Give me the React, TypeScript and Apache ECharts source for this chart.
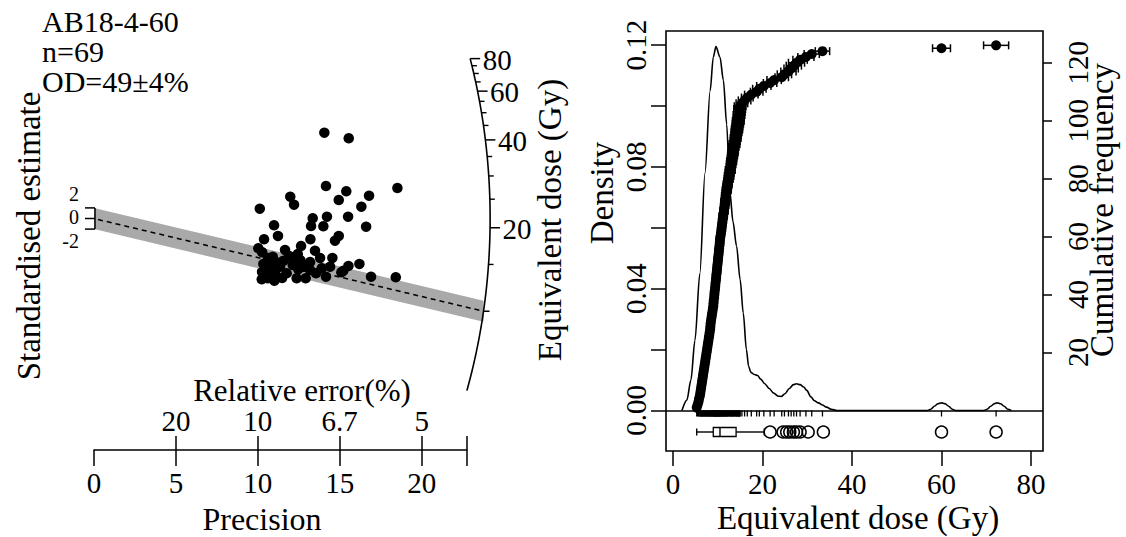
import React, { useEffect, useRef } from "react";
import * as echarts from "echarts";

const FONT = "Liberation Serif";

// ---------- Left panel: radial plot ----------
const sampleName = "AB18-4-60";
const sampleN = "n=69";
const sampleOD = "OD=49±4%";

const radialPrecision = [
  14.06, 15.55, 14.16, 18.52, 15.4, 11.98, 16.79, 14.94, 12.21, 16.32,
  10.12, 13.35, 14.22, 15.51, 10.99, 13.25, 14.0, 16.61, 11.23, 14.94,
  14.71, 10.38, 13.21, 12.64, 10.03, 13.49, 10.27, 10.91, 11.92, 12.44,
  14.55, 10.5, 11.25, 11.56, 12.13, 12.82, 13.9, 14.41, 15.53, 16.2,
  15.22, 10.7, 11.05, 12.47, 10.24, 11.01, 12.37, 12.92, 13.55, 14.16,
  16.91, 18.42, 10.6, 11.76, 15.1, 10.34, 10.74, 11.36, 12.68, 13.19,
  10.62, 11.66, 12.09, 11.05, 12.58, 10.26, 11.48, 13.19, 13.8,
];
const radialStdEst = [
  16.19, 15.13, 6.13, 5.75, 5.13, 4.11, 4.3, 3.49, 2.6, 2.23,
  1.85, 0.04, 0.34, 0.34, -1.28, -1.42, -1.47, -1.55, -3.3, -3.3,
  -4.19, -3.92, -3.92, -5.19, -5.62, -6.08, -6.38, -7.21, -7.08, -6.7,
  -7.45, -8.58, -8.34, -7.96, -8.77, -9.09, -9.4, -9.09, -8.96, -8.58,
  -9.85, -9.72, -10.34, -9.58, -11.47, -11.74, -11.28, -11.28, -10.34, -10.98,
  -10.98, -11.09, -11.28, -10.34, -10.15, -8.58, -9.09, -9.09, -9.09, -9.72,
  -7.45, -5.94, -7.45, -8.21, -7.83, -10.09, -11.23, -8.21, -7.45,
];

const precisionTicks = [0, 5, 10, 15, 20];
const precisionMax = 22.75;
const relErrTickPos = [5, 10, 15, 20];
const relErrTickLabels = ["20", "10", "6.7", "5"];
const stdEstTicks = [2, 0, -2];
const centralDe = 10.3;
const refDe = 21.5;
const arcMajorTicks = [20, 40, 60, 80];
const arcMinorTicks = [15, 25, 30, 35, 45, 50, 55, 65, 70, 75];
const arcRange = [5.16, 80];
const arcRadius = 24.18;
const arcAspect = 0.2513;

// ---------- Right panel: KDE + cumulative ----------
const kdeDe = [
  2.0, 3.1, 4.0, 4.9, 6.0, 7.15, 8.3, 9.0, 9.6, 10.5,
  11.25, 12.0, 12.7, 13.4, 14.2, 15.0, 15.7, 16.4, 16.9, 17.4,
  18.2, 18.9, 19.6, 20.5, 21.5, 22.5, 23.5, 24.2, 25.0, 26.0,
  26.9, 27.6, 28.4, 29.2, 29.9, 30.8, 31.6, 32.5, 33.4, 34.3,
  35.4, 36.6,
  56.8, 57.6, 58.4, 59.2, 60.0, 60.8, 61.6, 62.4, 63.2,
  69.4, 70.2, 71.0, 71.8, 72.4, 73.2, 74.0, 74.8, 75.6,
];
const kdeDensity = [
  0, 0.0034, 0.01, 0.023, 0.045, 0.078, 0.105, 0.116, 0.1195, 0.116,
  0.1085, 0.094, 0.072, 0.062, 0.054, 0.043, 0.032, 0.02, 0.0145, 0.0125,
  0.0118, 0.0115, 0.0103, 0.0088, 0.0072, 0.0057, 0.0047, 0.0046, 0.0055, 0.0072,
  0.0085, 0.0088, 0.0085, 0.0077, 0.0066, 0.0045, 0.0032, 0.0025, 0.0018, 0.0011,
  0.0004, 0,
  0, 0.0004, 0.0014, 0.0022, 0.0025, 0.0022, 0.0014, 0.0004, 0,
  0, 0.0004, 0.0014, 0.0022, 0.0025, 0.0022, 0.0014, 0.0004, 0,
];

const cumDe = [
  5.3, 5.5, 5.7, 5.8, 6.0, 6.1, 6.2, 6.3, 6.4, 6.5, 6.6, 6.7, 6.8,
  6.9, 7.0, 7.1, 7.2, 7.3, 7.4, 7.5, 7.6, 7.7, 7.8, 7.9, 8.0, 8.1, 8.2, 8.3, 8.35, 8.4, 8.5, 8.6, 8.7, 8.8, 8.9, 9.0,
  9.05, 9.1, 9.2, 9.25, 9.3, 9.4, 9.45, 9.5, 9.6, 9.65, 9.7, 9.8, 9.85, 9.9, 10.0, 10.05, 10.1, 10.2, 10.25, 10.3, 10.4, 10.45, 10.5,
  10.6, 10.7, 10.8, 10.85, 10.95, 11.05, 11.1, 11.2, 11.3, 11.4, 11.5, 11.55, 11.65, 11.75, 11.8, 11.9, 12.0,
  12.1, 12.2, 12.3, 12.45, 12.55, 12.65, 12.8, 12.9, 13.0, 13.1, 13.2, 13.3, 13.4, 13.5, 13.6, 13.75, 13.9,
  14.0, 14.1, 14.2, 14.3, 14.4, 14.5, 14.6, 14.7, 14.75, 14.85, 14.9, 15.0,
  15.4, 16.0, 16.6, 17.5, 18.7, 19.3, 20.3, 21.7, 22.6,
  24.3, 24.9, 25.8, 26.4, 27.0, 27.6, 28.4, 29.7, 31.0, 33.4,
  60.0, 72.2,
];
const cumErr = [
  0.35, 0.4, 0.4, 0.4, 0.45, 0.4, 0.45, 0.45, 0.4, 0.45, 0.5, 0.45, 0.5,
  0.5, 0.45, 0.5, 0.55, 0.5, 0.5, 0.55, 0.5, 0.55, 0.6, 0.5, 0.55, 0.6, 0.55, 0.6, 0.55, 0.6, 0.6, 0.55, 0.6, 0.65, 0.6, 0.6,
  0.65, 0.6, 0.65, 0.7, 0.6, 0.65, 0.7, 0.65, 0.7, 0.65, 0.7, 0.75, 0.7, 0.7, 0.75, 0.7, 0.75, 0.8, 0.7, 0.75, 0.8, 0.75, 0.8,
  0.8, 0.75, 0.8, 0.85, 0.8, 0.85, 0.8, 0.9, 0.85, 0.9, 0.85, 0.9, 0.95, 0.9, 0.95, 0.9, 1.0,
  0.95, 1.0, 0.95, 1.0, 1.05, 1.0, 1.1, 1.0, 1.05, 1.1, 1.05, 1.1, 1.15, 1.1, 1.15, 1.2, 1.1,
  1.2, 1.15, 1.2, 1.25, 1.2, 1.25, 1.3, 1.2, 1.3, 1.25, 1.3, 1.3,
  1.3, 1.4, 1.3, 1.5, 1.4, 1.5, 1.6, 1.5, 1.6,
  1.5, 1.6, 1.7, 1.6, 1.7, 1.8, 1.6, 1.8, 1.7, 1.6,
  2.0, 2.8,
];

const boxStats = [5.3, 9.0, 10.5, 14.1, 20.4]; // lower whisker, Q1, median, Q3, upper whisker
const boxOutliers = [21.7, 24.6, 25.4, 26.1, 26.9, 27.6, 28.4, 30.2, 33.6, 60.0, 72.2];

const doseTicks = [0, 20, 40, 60, 80];
const doseMin = -1.564;
const doseMax = 82.68;
const densityTicks = [0, 0.02, 0.04, 0.06, 0.08, 0.1, 0.12];
const densityLabels = [0, 0.04, 0.08, 0.12];
const cumTicks = [20, 40, 60, 80, 100, 120];

// ---------- helpers ----------
const BOX_LEVEL = -0.00706;
const BLACK = "#000";

function arcPoint(de: number): [number, number] {
  const s = Math.log(de / refDe);
  const x = arcRadius / Math.sqrt(1 + arcAspect * arcAspect * s * s);
  return [x, s * x];
}

function txt(
  text: string,
  x: number,
  y: number,
  size: number,
  align: string,
  valign: string,
  rotation = 0,
  lineHeight?: number
) {
  const style: any = {
    text,
    font: `${size}px '${FONT}'`,
    fill: BLACK,
    textAlign: align,
    textVerticalAlign: valign,
  };
  if (lineHeight) style.textLineHeight = lineHeight;
  return { type: "text", x, y, rotation, silent: true, style };
}

function line(x1: number, y1: number, x2: number, y2: number, w = 1.5, dash?: number[]) {
  return {
    type: "line",
    silent: true,
    shape: { x1, y1, x2, y2 },
    style: { stroke: BLACK, lineWidth: w, lineDash: dash, fill: null },
  };
}

function buildOption() {
  const labelStyle = { color: BLACK, fontFamily: FONT, fontSize: 29 };
  const tickStyle = { color: BLACK, width: 1.5 };

  const radialFrame = {
    type: "custom",
    xAxisIndex: 0,
    yAxisIndex: 0,
    z: 1,
    silent: true,
    clip: false,
    data: [[0, 0]],
    renderItem: (_p: any, api: any) => {
      const c = (x: number, y: number) => api.coord([x, y]);
      const children: any[] = [];
      const sC = Math.log(centralDe / refDe);
      const end = arcPoint(centralDe);
      const xe = end[0];
      // 2-sigma band
      children.push({
        type: "polygon",
        silent: true,
        shape: { points: [c(0, 2), c(xe, sC * xe + 2), c(xe, sC * xe - 2), c(0, -2)] },
        style: { fill: "#a9a9a9", lineWidth: 0 },
      });
      // central line
      const o = c(0, 0);
      const e = c(end[0], end[1]);
      children.push(line(o[0] + 4, o[1] + 1, e[0], e[1], 1.6, [5, 4]));
      children.push(line(e[0], e[1], e[0] + 6, e[1], 1.5));
      // arc (De axis)
      const pts: number[][] = [];
      const n = 120;
      const l0 = Math.log(arcRange[0]);
      const l1 = Math.log(arcRange[1]);
      for (let i = 0; i <= n; i++) {
        const d = Math.exp(l0 + ((l1 - l0) * i) / n);
        const p = arcPoint(d);
        pts.push(c(p[0], p[1]));
      }
      children.push({
        type: "polyline",
        silent: true,
        shape: { points: pts },
        style: { stroke: BLACK, lineWidth: 1.6, fill: null },
      });
      arcMinorTicks.forEach((d) => {
        const p = arcPoint(d);
        const q = c(p[0], p[1]);
        children.push(line(q[0], q[1], q[0] + 5, q[1], 1.4));
      });
      arcMajorTicks.forEach((d) => {
        const p = arcPoint(d);
        const q = c(p[0], p[1]);
        children.push(line(q[0], q[1], q[0] + 10, q[1], 1.5));
        children.push(txt(String(d), q[0] + 12.5, q[1] + 1, 29, "left", "middle"));
      });
      // short y axis (standardised estimate)
      const a = c(0, 2);
      const b = c(0, -2);
      const x0 = a[0] + 1;
      children.push(line(x0, a[1], x0, b[1], 1.5));
      const labelDy: Record<string, number> = { "2": -13.5, "0": -1, "-2": 11.5 };
      stdEstTicks.forEach((t) => {
        const q = c(0, t);
        children.push(line(x0 - 10, q[1], x0, q[1], 1.5));
        children.push(txt(String(t), x0 - 16, q[1] + labelDy[String(t)], 20, "right", "middle"));
      });
      return { type: "group", children };
    },
  };

  const radialPoints = {
    type: "scatter",
    xAxisIndex: 0,
    yAxisIndex: 0,
    z: 3,
    symbol: "circle",
    symbolSize: 10.5,
    itemStyle: { color: BLACK, opacity: 1 },
    data: radialPrecision.map((p, i) => [p, radialStdEst[i]]),
  };

  const kdeLine = {
    type: "line",
    xAxisIndex: 2,
    yAxisIndex: 1,
    z: 2,
    showSymbol: false,
    smooth: 0.3,
    smoothMonotone: "x",
    lineStyle: { color: BLACK, width: 1.6 },
    data: kdeDe.map((d, i) => [d, kdeDensity[i]]),
    markLine: {
      silent: true,
      symbol: "none",
      label: { show: false },
      lineStyle: { color: BLACK, width: 1.6, type: "solid" },
      data: [{ yAxis: 0 }],
    },
  };

  const rug = {
    type: "custom",
    xAxisIndex: 2,
    yAxisIndex: 1,
    z: 2,
    silent: true,
    data: cumDe.map((d) => [d, 0]),
    renderItem: (_p: any, api: any) => {
      const q = api.coord([api.value(0), 0]);
      return line(q[0], q[1], q[0], q[1] + 6, 1.3);
    },
  };

  const boxplot = {
    type: "custom",
    xAxisIndex: 2,
    yAxisIndex: 1,
    z: 2,
    silent: true,
    data: [[boxStats[2], BOX_LEVEL]],
    renderItem: (_p: any, api: any) => {
      const px = (v: number) => api.coord([v, BOX_LEVEL])[0];
      const yc = api.coord([0, BOX_LEVEL])[1];
      const h = 4.5;
      const [lo, q1, med, q3, hi] = boxStats.map(px);
      return {
        type: "group",
        children: [
          line(lo, yc, q1, yc, 1.4),
          line(q3, yc, hi, yc, 1.4),
          line(lo, yc - 3.5, lo, yc + 3.5, 1.4),
          line(hi, yc - 3.5, hi, yc + 3.5, 1.4),
          {
            type: "rect",
            silent: true,
            shape: { x: q1, y: yc - h, width: q3 - q1, height: 2 * h },
            style: { fill: "#fff", stroke: BLACK, lineWidth: 1.3 },
          },
          line(med, yc - h, med, yc + h, 1.4),
        ],
      };
    },
  };

  const outliers = {
    type: "scatter",
    xAxisIndex: 2,
    yAxisIndex: 1,
    z: 3,
    symbol: "circle",
    symbolSize: 12,
    itemStyle: { color: "rgba(0,0,0,0)", borderColor: BLACK, borderWidth: 1.5, opacity: 1 },
    data: boxOutliers.map((d) => [d, BOX_LEVEL]),
  };

  const errBars = {
    type: "custom",
    xAxisIndex: 2,
    yAxisIndex: 2,
    z: 4,
    silent: true,
    data: cumDe.map((d, i) => [d, i + 1, cumErr[i]]),
    renderItem: (_p: any, api: any) => {
      const x = api.value(0);
      const y = api.value(1);
      const e = api.value(2);
      const l = api.coord([x - e, y]);
      const r = api.coord([x + e, y]);
      return {
        type: "group",
        children: [
          line(l[0], l[1], r[0], r[1], 1.5),
          line(l[0], l[1] - 4, l[0], l[1] + 4, 1.5),
          line(r[0], r[1] - 4, r[0], r[1] + 4, 1.5),
        ],
      };
    },
  };

  const cumPoints = {
    type: "scatter",
    xAxisIndex: 2,
    yAxisIndex: 2,
    z: 5,
    symbol: "circle",
    symbolSize: 10,
    itemStyle: { color: BLACK, opacity: 1 },
    data: cumDe.map((d, i) => [d, i + 1]),
  };

  // right-hand (cumulative frequency) tick labels, placed through the axis scale
  const cumAxisLabels = {
    type: "custom",
    xAxisIndex: 2,
    yAxisIndex: 2,
    z: 5,
    silent: true,
    clip: false,
    data: cumTicks.map((t) => [doseMax, t]),
    renderItem: (_p: any, api: any) => {
      const q = api.coord([api.value(0), api.value(1)]);
      return txt(String(api.value(1)), q[0] + 35, q[1], 29, "center", "middle", Math.PI / 2);
    },
  };

  return {
    animation: false,
    backgroundColor: "#fff",
    textStyle: { fontFamily: FONT },
    grid: [
      { left: 94, top: 30, width: 372.7, height: 420, show: false },
      {
        left: 666,
        top: 31,
        width: 377,
        height: 420,
        show: true,
        borderColor: BLACK,
        borderWidth: 1.6,
        backgroundColor: "transparent",
      },
    ],
    xAxis: [
      {
        gridIndex: 0,
        type: "value",
        min: 0,
        max: precisionMax,
        position: "bottom",
        axisLine: { show: true, onZero: false, lineStyle: { color: BLACK, width: 1.6 } },
        axisTick: {
          show: true,
          customValues: [...precisionTicks, precisionMax],
          length: 16,
          lineStyle: tickStyle,
        },
        axisLabel: { show: true, customValues: precisionTicks, margin: 18, ...labelStyle },
        splitLine: { show: false },
      },
      {
        gridIndex: 0,
        type: "value",
        min: 0,
        max: precisionMax,
        position: "bottom",
        offset: 0,
        axisLine: { show: false, onZero: false },
        axisTick: {
          show: true,
          inside: true,
          customValues: [...relErrTickPos, precisionMax],
          length: 14,
          lineStyle: tickStyle,
        },
        axisLabel: {
          show: true,
          inside: true,
          customValues: relErrTickPos,
          margin: 15,
          formatter: (v: number) => relErrTickLabels[relErrTickPos.indexOf(v)] ?? "",
          ...labelStyle,
        },
        splitLine: { show: false },
      },
      {
        gridIndex: 1,
        type: "value",
        min: doseMin,
        max: doseMax,
        position: "bottom",
        axisLine: { show: false, onZero: false },
        axisTick: { show: true, customValues: doseTicks, length: 15, lineStyle: tickStyle },
        axisLabel: { show: true, customValues: doseTicks, margin: 18, ...labelStyle },
        splitLine: { show: false },
      },
    ],
    yAxis: [
      { gridIndex: 0, type: "value", min: -43.68, max: 35.566, show: false },
      {
        gridIndex: 1,
        type: "value",
        position: "left",
        min: -0.0133,
        max: 0.1246,
        axisLine: { show: false, onZero: false },
        axisTick: { show: true, customValues: densityTicks, length: 15, lineStyle: tickStyle },
        axisLabel: {
          show: true,
          customValues: densityLabels,
          rotate: 90,
          margin: 16,
          formatter: (v: number) => v.toFixed(2),
          ...labelStyle,
        },
        splitLine: { show: false },
      },
      {
        gridIndex: 1,
        type: "value",
        position: "right",
        min: -13.97,
        max: 130.95,
        axisLine: { show: false, onZero: false },
        axisTick: { show: true, customValues: cumTicks, length: 9, lineStyle: tickStyle },
        axisLabel: { show: false },
        splitLine: { show: false },
      },
    ],
    series: [
      radialFrame,
      radialPoints,
      kdeLine,
      rug,
      boxplot,
      outliers,
      errBars,
      cumPoints,
      cumAxisLabels,
    ],
    graphic: {
      elements: [
        txt([sampleName, sampleN, sampleOD].join("\n"), 42, 51, 30, "left", "middle", 0, 30),
        txt("Standardised estimate", 29, 236, 33, "center", "middle", Math.PI / 2),
        txt("Relative error(%)", 302, 390, 31, "center", "middle"),
        txt("Precision", 262, 519, 32, "center", "middle"),
        txt("Equivalent dose (Gy)", 550, 220, 33, "center", "middle", Math.PI / 2),
        txt("Density", 602, 193, 33, "center", "middle", Math.PI / 2),
        txt("Cumulative frequency", 1102, 210, 33, "center", "middle", Math.PI / 2),
        txt("Equivalent dose (Gy)", 858, 518, 33, "center", "middle"),
      ],
    },
  };
}

export default function App() {
  const ref = useRef<HTMLDivElement>(null);
  useEffect(() => {
    if (!ref.current) return;
    const chart = echarts.init(ref.current, undefined, { renderer: "svg" });
    chart.setOption(buildOption() as any);
    return () => chart.dispose();
  }, []);
  return (
    <div
      ref={ref}
      style={{ position: "fixed", left: 0, top: 0, width: 1126, height: 537, background: "#fff" }}
    />
  );
}
